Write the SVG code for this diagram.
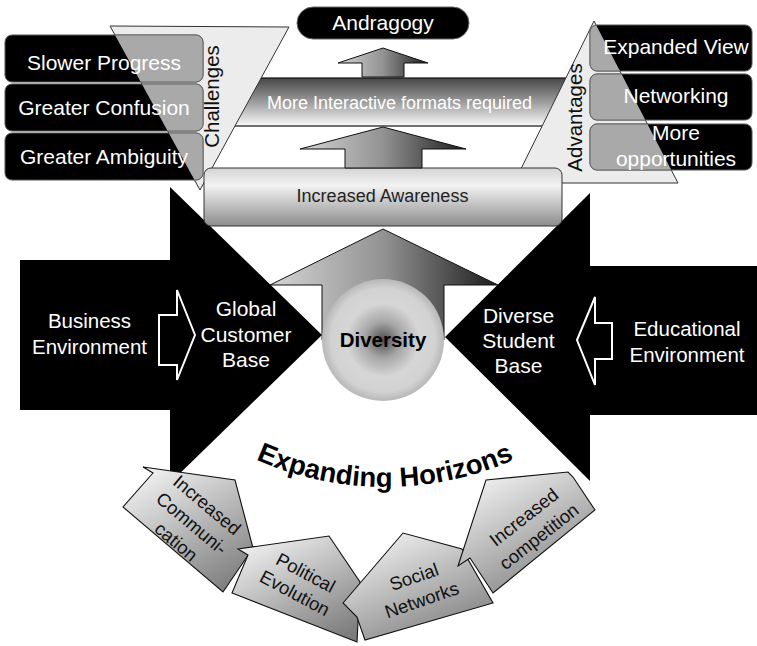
<svg xmlns="http://www.w3.org/2000/svg" width="757" height="646" viewBox="0 0 757 646">
  <defs>
    <style>
      text { font-family: "Liberation Sans", Arial, Helvetica, sans-serif; }
      .w { fill: #ffffff; }
      .k { fill: #111111; }
      .c { text-anchor: middle; }
      .box { font-size: 21px; }
      .arr { font-size: 20.5px; }
      .blk { font-size: 18.5px; fill: #111111; text-anchor: middle; }
      .cap { fill: #000000; stroke: #555555; stroke-width: 1; }
      .capOver { fill: #a9a9a9; stroke: #666666; stroke-width: 1; }
      .tri { fill: #ececec; stroke: #333333; stroke-width: 1; }
      .grayArrow { fill: url(#gArrow); stroke: #111111; stroke-width: 1; }
      .outline { fill: none; stroke: #ffffff; stroke-width: 2; stroke-linejoin: miter; }
      .block { fill: url(#gBlock); stroke: #111111; stroke-width: 1.1; stroke-linejoin: miter; }
    </style>
    <linearGradient id="gArrow" x1="0" y1="0" x2="1" y2="0">
      <stop offset="0" stop-color="#d4d4d4"/>
      <stop offset="0.5" stop-color="#929292"/>
      <stop offset="1" stop-color="#1c1c1c"/>
    </linearGradient>
    <linearGradient id="gBand" x1="0" y1="0" x2="0" y2="1">
      <stop offset="0" stop-color="#474747"/>
      <stop offset="0.5" stop-color="#9c9c9c"/>
      <stop offset="1" stop-color="#fbfbfb"/>
    </linearGradient>
    <linearGradient id="gAware" x1="0" y1="0" x2="0" y2="1">
      <stop offset="0" stop-color="#d4d4d4"/>
      <stop offset="0.3" stop-color="#f2f2f2"/>
      <stop offset="1" stop-color="#8c8c8c"/>
    </linearGradient>
    <radialGradient id="gDiv" cx="0.5" cy="0.5" r="0.5">
      <stop offset="0" stop-color="#4e4e4e"/>
      <stop offset="0.3" stop-color="#a6a6a6"/>
      <stop offset="0.6" stop-color="#d6d6d6"/>
      <stop offset="0.85" stop-color="#d2d2d2"/>
      <stop offset="1" stop-color="#b8b8b8"/>
    </radialGradient>
    <linearGradient id="gBlock" x1="0.2" y1="0" x2="0.8" y2="1">
      <stop offset="0" stop-color="#f2f2f2"/>
      <stop offset="1" stop-color="#7c7c7c"/>
    </linearGradient>
    <clipPath id="clipChal">
      <polygon points="110,26 289,27 200,190"/>
    </clipPath>
    <clipPath id="clipAdv">
      <polygon points="594,21 678,183 514,183"/>
    </clipPath>
    <path id="arcEH" d="M185,415.9 A317,317 0 0,0 585,415.9" fill="none"/>
  </defs>

  <!-- middle band, partly hidden behind the two triangles -->
  <g id="interactive-formats">
    <rect x="200" y="78" width="400" height="48" fill="url(#gBand)" stroke="#111" stroke-width="1.2"/>
    <text x="399.5" y="109" class="w c" font-size="18">More Interactive formats required</text>
  </g>

  <!-- big black arrows -->
  <g id="business-environment">
    <polygon points="20,260 170,260 170,187 322,335 170,483 170,410 20,410" fill="#000"/>
    <text class="w c arr"><tspan x="89.5" y="328">Business</tspan><tspan x="89.5" y="354">Environment</tspan></text>
  </g>
  <g id="global-customer-base">
    <text class="w c" font-size="21"><tspan x="246" y="316">Global</tspan><tspan x="246" y="342">Customer</tspan><tspan x="246" y="367">Base</tspan></text>
  </g>
  <g id="educational-environment">
    <polygon points="757,266 590,266 590,193 445,337 590,481 590,415 757,415" fill="#000"/>
    <text class="w c arr"><tspan x="687" y="336">Educational</tspan><tspan x="687" y="361.5">Environment</tspan></text>
  </g>
  <g id="diverse-student-base">
    <text class="w c" font-size="21"><tspan x="518.5" y="323">Diverse</tspan><tspan x="518.5" y="348">Student</tspan><tspan x="518.5" y="373">Base</tspan></text>
  </g>

  <!-- challenges -->
  <g id="challenges">
    <polygon class="tri" points="110,26 289,27 200,190"/>
    <rect class="cap" x="5" y="35" width="198" height="47" rx="7"/>
    <rect class="cap" x="5" y="84" width="198" height="47" rx="7"/>
    <rect class="cap" x="5" y="133" width="198" height="47" rx="7"/>
    <g clip-path="url(#clipChal)">
      <rect class="capOver" x="5" y="35" width="198" height="47" rx="7"/>
      <rect class="capOver" x="5" y="84" width="198" height="47" rx="7"/>
      <rect class="capOver" x="5" y="133" width="198" height="47" rx="7"/>
    </g>
    <text class="w c box" x="104" y="70">Slower Progress</text>
    <text class="w c box" x="104" y="115">Greater Confusion</text>
    <text class="w c box" x="104" y="163.5">Greater Ambiguity</text>
    <text class="k c" font-size="20.5" transform="translate(219,96.5) rotate(-90)">Challenges</text>
  </g>

  <!-- advantages -->
  <g id="advantages">
    <polygon class="tri" points="594,21 678,183 514,183"/>
    <rect class="cap" x="590" y="25" width="162" height="46" rx="7"/>
    <rect class="cap" x="590" y="74" width="162" height="46" rx="7"/>
    <rect class="cap" x="590" y="124" width="162" height="46" rx="7"/>
    <g clip-path="url(#clipAdv)">
      <rect class="capOver" x="590" y="25" width="162" height="46" rx="7"/>
      <rect class="capOver" x="590" y="74" width="162" height="46" rx="7"/>
      <rect class="capOver" x="590" y="124" width="162" height="46" rx="7"/>
    </g>
    <text class="w c box" x="676" y="54">Expanded View</text>
    <text class="w c box" x="676" y="102.5">Networking</text>
    <text class="w c box"><tspan x="676" y="140">More</tspan><tspan x="676" y="165.5">opportunities</tspan></text>
    <text class="k c" font-size="20.5" transform="translate(582,117.5) rotate(-90)">Advantages</text>
  </g>

  <!-- increased awareness -->
  <g id="increased-awareness">
    <rect x="204" y="168" width="358" height="58" rx="7" fill="url(#gAware)" stroke="#333" stroke-width="1"/>
    <text class="c" x="382.5" y="202" font-size="18" fill="#222">Increased Awareness</text>
  </g>

  <!-- andragogy -->
  <g id="andragogy">
    <rect x="297" y="7" width="172" height="32" rx="16" fill="#000" stroke="#666" stroke-width="1"/>
    <text class="w c" x="383" y="30" font-size="21">Andragogy</text>
  </g>

  <!-- arrows linking the parts -->
  <g id="connectors">
    <polygon class="grayArrow" points="383,48 428,63 404,63 404,77 362,77 362,63 338,63"/>
    <polygon class="grayArrow" points="383,127 466,149 422,149 422,168 345,168 345,149 300,149"/>
    <polygon class="grayArrow" points="383,229 498,285 444,285 444,340 322,340 322,285 270,285"/>
    <polygon class="outline" points="159,315 177,315 177,290 195,335 177,380 177,365 159,365"/>
    <polygon class="outline" points="577,340 595,297 595,323 612,323 612,359 595,359 595,385"/>
  </g>

  <!-- diversity -->
  <g id="diversity">
    <circle cx="383" cy="340" r="61" fill="url(#gDiv)"/>
    <text class="c" x="383" y="347" font-size="20.5" font-weight="bold" fill="#000">Diversity</text>
  </g>

  <!-- expanding horizons title -->
  <g id="expanding-horizons">
    <text font-size="27.5" font-weight="bold" fill="#000"><textPath href="#arcEH" startOffset="50%" text-anchor="middle">Expanding Horizons</textPath></text>
  </g>

  <!-- curved row of block arrows -->
  <g id="increased-communication">
    <polygon class="block" points="143,467 235,480 253,548 223,592 123,507 153,473"/>
    <text class="blk" transform="translate(191.7,523.3) rotate(40)"><tspan x="0" y="-17.5">Increased</tspan><tspan x="0" y="6.5">Communi-</tspan><tspan x="0" y="30.5">cation</tspan></text>
  </g>
  <g id="political-evolution">
    <polygon class="block" points="238,549 329,536 360,582 357,642 232,593 248,555"/>
    <text class="blk" transform="translate(300.3,582.8) rotate(28)"><tspan x="0" y="-5">Political</tspan><tspan x="0" y="18">Evolution</tspan></text>
  </g>
  <g id="social-networks">
    <polygon class="block" points="343,603 403,533 462,549 493,603 365,640 357,617"/>
    <text class="blk" transform="translate(417.8,588.3) rotate(-19)"><tspan x="0" y="-5.7">Social</tspan><tspan x="0" y="18.7">Networks</tspan></text>
  </g>
  <g id="increased-competition">
    <polygon class="block" points="458,566 486,480 568,472 573,477 595,510 493,593 470,558"/>
    <text class="blk" transform="translate(531.3,526.7) rotate(-38)"><tspan x="0" y="-5.8">Increased</tspan><tspan x="0" y="18.8">competition</tspan></text>
  </g>
</svg>
